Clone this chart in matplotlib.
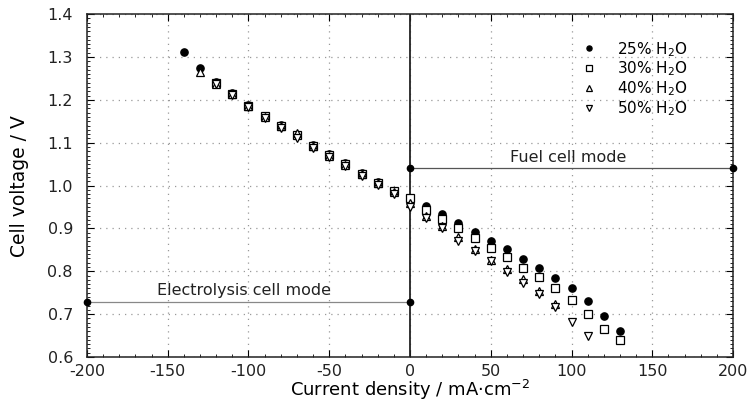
import matplotlib
matplotlib.use("Agg")
import matplotlib.pyplot as plt
from matplotlib.ticker import MultipleLocator, FormatStrFormatter

plt.rcParams['font.family'] = ['DejaVu Sans']
plt.rcParams['axes.unicode_minus'] = False
plt.rcParams['mathtext.fontset'] = 'dejavusans'

# Data (current density in mA/cm2, voltage in V)
x_25 = [-140, -130, -120, -110, -100, -90, -80, -70, -60, -50, -40, -30, -20, -10, 0,
        10, 20, 30, 40, 50, 60, 70, 80, 90, 100, 110, 120, 130]
v_25 = [1.311, 1.275, 1.242, 1.216, 1.188, 1.163, 1.141, 1.119, 1.095, 1.073, 1.052, 1.030, 1.009, 0.988, 0.971,
        0.952, 0.933, 0.913, 0.892, 0.871, 0.851, 0.829, 0.808, 0.785, 0.760, 0.730, 0.695, 0.661]

x_30 = [-120, -110, -100, -90, -80, -70, -60, -50, -40, -30, -20, -10, 0,
        10, 20, 30, 40, 50, 60, 70, 80, 90, 100, 110, 120, 130]
v_30 = [1.240, 1.214, 1.186, 1.162, 1.139, 1.117, 1.093, 1.071, 1.050, 1.028, 1.007, 0.987, 0.970,
        0.943, 0.921, 0.900, 0.878, 0.855, 0.833, 0.808, 0.786, 0.760, 0.732, 0.700, 0.665, 0.640]

x_40 = [-130, -120, -110, -100, -90, -80, -70, -60, -50, -40, -30, -20, -10, 0,
        10, 20, 30, 40, 50, 60, 70, 80, 90]
v_40 = [1.264, 1.238, 1.213, 1.185, 1.160, 1.138, 1.122, 1.092, 1.070, 1.049, 1.027, 1.005, 0.985, 0.960,
        0.930, 0.905, 0.880, 0.853, 0.826, 0.805, 0.781, 0.754, 0.724]

x_50 = [-120, -110, -100, -90, -80, -70, -60, -50, -40, -30, -20, -10, 0,
        10, 20, 30, 40, 50, 60, 70, 80, 90, 100, 110]
v_50 = [1.236, 1.211, 1.183, 1.158, 1.135, 1.110, 1.087, 1.067, 1.045, 1.023, 1.001, 0.981, 0.951,
        0.924, 0.900, 0.871, 0.847, 0.824, 0.799, 0.773, 0.746, 0.716, 0.681, 0.650]

labels = ['25% H$_2$O', '30% H$_2$O', '40% H$_2$O', '50% H$_2$O']

fuel_x = [0, 200]
fuel_v = [1.04, 1.04]
elec_x = [-200, 0]
elec_v = [0.728, 0.728]

fig = plt.figure(figsize=(7.49, 4.03), dpi=100)
ax = fig.add_axes([0.116, 0.114, 0.8627, 0.851])

ax.plot(fuel_x, fuel_v, color='#555555', lw=0.9, marker='o', ms=4.5, mfc='black', mec='black',
        zorder=3, clip_on=False)
ax.plot(elec_x, elec_v, color='#888888', lw=0.9, marker='o', ms=4.5, mfc='black', mec='black',
        zorder=3, clip_on=False)
ax.axvline(0, color='#222222', lw=1.3, zorder=2)

ax.plot(x_25, v_25, ls='none', marker='o', ms=5.2, mfc='black', mec='black', label=labels[0], zorder=4)
ax.plot(x_30, v_30, ls='none', marker='s', ms=5.6, mfc='white', mec='black', mew=0.9, label=labels[1], zorder=4)
ax.plot(x_40, v_40, ls='none', marker='^', ms=6.2, mfc='white', mec='black', mew=0.9, label=labels[2], zorder=5)
ax.plot(x_50, v_50, ls='none', marker='v', ms=6.2, mfc='white', mec='black', mew=0.9, label=labels[3], zorder=5)

ax.set_xlim(-200, 200)
ax.set_ylim(0.6, 1.4)
ax.xaxis.set_major_locator(MultipleLocator(50))
ax.xaxis.set_minor_locator(MultipleLocator(10))
ax.yaxis.set_major_locator(MultipleLocator(0.1))
ax.yaxis.set_minor_locator(MultipleLocator(0.01))
ax.yaxis.set_major_formatter(FormatStrFormatter('%.1f'))
ax.tick_params(which='both', direction='in', top=True, right=True, labelsize=11.5, colors='black',
               labelcolor='#222222')
ax.tick_params(which='major', length=5)
ax.tick_params(axis='x', which='major', pad=5)
ax.tick_params(axis='y', which='major', pad=10)
ax.tick_params(which='minor', length=2.5)
ax.grid(True, which='major', ls=(0, (1, 4)), color='#999999', lw=0.9)

for s in ax.spines.values():
    s.set_linewidth(1.1)
    s.set_color('#222222')

ax.set_xlabel('Current density / mA$\\cdot$cm$^{-2}$', fontsize=13, labelpad=-1)
ax.set_ylabel('Cell voltage / V', fontsize=13.5, labelpad=13)

ax.text(98, 1.066, 'Fuel cell mode', fontsize=11.5, ha='center', va='center', color='#222222')
ax.text(-103, 0.755, 'Electrolysis cell mode', fontsize=11.5, ha='center', va='center', color='#222222')

leg = ax.legend(loc='upper left', bbox_to_anchor=(0.766, 0.925), frameon=False, fontsize=11,
                borderaxespad=0, borderpad=0, handletextpad=1.3, labelspacing=0.08,
                markerscale=0.7, handlelength=1.0)

fig.savefig('out.png', dpi=100)
